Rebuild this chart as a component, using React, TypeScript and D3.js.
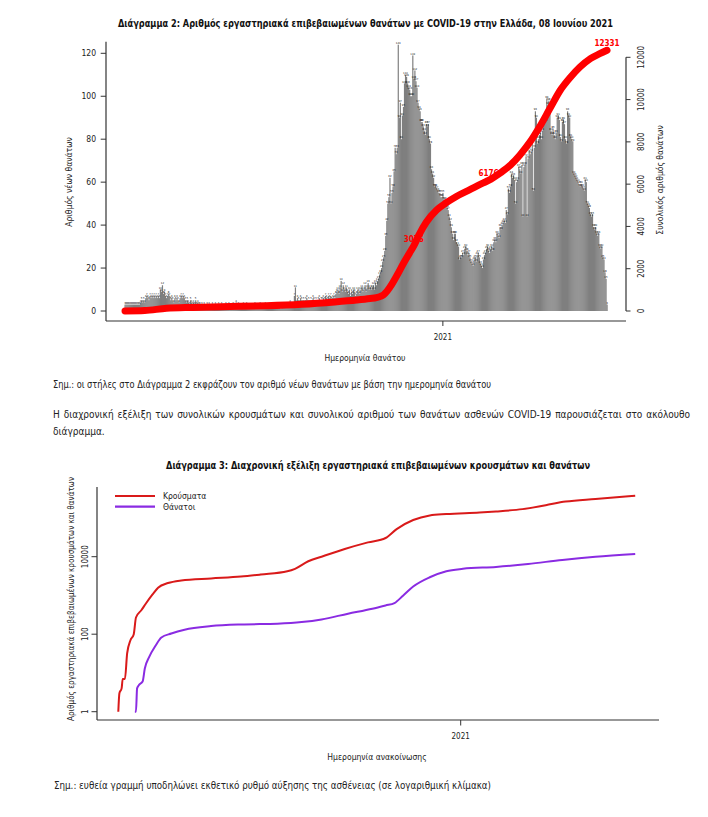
import { useLayoutEffect, useRef } from 'react';
import * as d3 from 'd3';

const FONT = "'Liberation Sans Narrow', 'Arial Narrow', 'DejaVu Sans Condensed', 'Roboto Condensed', sans-serif";

// Διάγραμμα 2: daily deaths by date of death, one array per month (from 2020-03-01)
const FIRST_DAY = '2020-03-01';
const deathsMar20 = [3, 3, 3, 3, 3, 3, 3, 3, 3, 3, 3, 3, 3, 3, 3, 4, 5, 4, 5, 4, 6, 7, 6, 5, 7, 6, 7, 6, 7, 6, 7];
const deathsApr20 = [6, 7, 6, 10, 9, 12, 8, 9, 7, 6, 7, 8, 7, 5, 6, 5, 4, 6, 5, 6, 5, 4, 6, 7, 6, 7, 6, 5, 4, 5];
const deathsMay20 = [4, 3, 5, 4, 3, 4, 3, 5, 3, 4, 3, 3, 2, 3, 2, 3, 2, 2, 3, 2, 3, 2, 2, 3, 2, 2, 3, 2, 2, 3, 2];
const deathsJun20 = [2, 3, 2, 2, 1, 3, 2, 2, 3, 2, 1, 2, 3, 2, 2, 4, 2, 3, 2, 2, 1, 2, 3, 2, 2, 3, 2, 2, 1, 2];
const deathsJul20 = [2, 1, 2, 3, 2, 1, 2, 2, 3, 2, 1, 2, 2, 3, 1, 2, 2, 1, 2, 3, 2, 2, 1, 2, 2, 3, 2, 2, 1, 2, 2];
const deathsAug20 = [2, 3, 2, 3, 2, 3, 4, 3, 2, 3, 7, 11, 4, 6, 5, 4, 6, 5, 4, 5, 4, 5, 6, 4, 5, 4, 5, 4, 6, 5, 4];
const deathsSep20 = [5, 4, 5, 6, 4, 5, 5, 6, 5, 7, 6, 5, 7, 6, 7, 5, 6, 7, 6, 8, 9, 10, 8, 11, 14, 9, 12, 10, 9, 11];
const deathsOct20 = [9, 8, 10, 7, 9, 8, 10, 9, 7, 8, 10, 9, 8, 10, 11, 9, 10, 12, 9, 11, 13, 10, 11, 10, 11, 12, 10, 13, 12, 14, 15];
const deathsNov20 = [17, 18, 20, 23, 25, 28, 35, 42, 50, 53, 62, 50, 55, 58, 65, 76, 73, 76, 124, 90, 97, 80, 91, 95, 106, 110, 109, 106, 104, 103];
const deathsDec20 = [100, 100, 119, 108, 112, 107, 104, 97, 94, 93, 88, 88, 86, 84, 82, 87, 86, 87, 80, 78, 66, 64, 62, 58, 58, 57, 56, 55, 55, 53, 53];
const deathsJan21 = [55, 52, 52, 49, 48, 47, 44, 42, 39, 36, 33, 36, 36, 32, 31, 30, 24, 25, 25, 27, 26, 29, 30, 28, 26, 27, 25, 23, 22, 21, 24];
const deathsFeb21 = [25, 23, 26, 27, 25, 22, 21, 20, 24, 26, 27, 29, 30, 28, 27, 29, 30, 28, 32, 33, 32, 36, 35, 34, 39, 38, 40, 41];
const deathsMar21 = [42, 41, 47, 45, 57, 55, 58, 64, 62, 63, 61, 50, 60, 61, 67, 66, 64, 68, 44, 67, 68, 72, 44, 71, 75, 73, 74, 79, 56, 76, 93];
const deathsApr21 = [90, 78, 80, 82, 83, 80, 84, 89, 87, 88, 99, 96, 98, 95, 84, 82, 85, 82, 80, 83, 90, 91, 89, 81, 79, 88, 89, 87, 80, 78];
const deathsMay21 = [93, 91, 90, 81, 80, 79, 64, 63, 62, 61, 60, 59, 58, 59, 58, 57, 56, 61, 60, 50, 49, 48, 45, 44, 45, 39, 38, 39, 36, 35, 36];
const deathsJun21 = [30, 29, 30, 25, 24, 18, 15, 3];

// cumulative deaths (right axis)
const cumDates = ['2020-03-01', '2020-03-20', '2020-04-10', '2020-05-05', '2020-06-10', '2020-07-15', '2020-08-18', '2020-09-19', '2020-10-10', '2020-10-23', '2020-10-29', '2020-11-02', '2020-11-05', '2020-11-08', '2020-11-11', '2020-11-18', '2020-11-24', '2020-11-30', '2020-12-04', '2020-12-09', '2020-12-16', '2020-12-26', '2021-01-04', '2021-01-14', '2021-01-27', '2021-02-09', '2021-02-14', '2021-02-25', '2021-03-07', '2021-03-16', '2021-03-26', '2021-04-04', '2021-04-14', '2021-04-24', '2021-05-04', '2021-05-13', '2021-05-23', '2021-06-01', '2021-06-08'];
const cumValues = [0, 20, 130, 170, 210, 250, 320, 430, 520, 590, 630, 690, 770, 920, 1120, 1700, 2250, 2750, 3076, 3600, 4200, 4780, 5110, 5420, 5740, 6060, 6176, 6520, 6900, 7370, 8000, 8700, 9575, 10440, 11070, 11540, 11940, 12170, 12331];
const cumLabelDates = ['2020-12-04', '2021-02-14', '2021-06-08'];
const cumLabelValues = [3076, 6176, 12331];

const leftTicks = [0, 20, 40, 60, 80, 100, 120];
const rightTicks = [0, 2000, 4000, 6000, 8000, 10000, 12000];

// Διάγραμμα 3: cumulative cases and deaths by announcement date (log scale)
const caseDates = ['2020-02-26', '2020-02-27', '2020-02-29', '2020-03-01', '2020-03-03', '2020-03-05', '2020-03-08', '2020-03-11', '2020-03-13', '2020-03-18', '2020-03-22', '2020-03-28', '2020-04-02', '2020-04-11', '2020-04-23', '2020-05-20', '2020-06-16', '2020-07-04', '2020-07-28', '2020-08-04', '2020-08-16', '2020-08-28', '2020-09-18', '2020-10-09', '2020-10-25', '2020-11-04', '2020-11-19', '2020-12-04', '2020-12-19', '2021-01-18', '2021-02-02', '2021-02-26', '2021-03-19', '2021-04-06', '2021-05-03', '2021-06-08'];
const caseValues = [1, 3, 4, 7, 7, 32, 70, 100, 270, 420, 620, 1060, 1580, 2090, 2440, 2750, 3070, 3470, 4200, 4870, 7620, 10000, 15800, 23400, 30400, 51600, 88500, 116000, 126000, 138000, 147000, 169000, 214000, 264000, 308000, 373000];
const deathDates = ['2020-03-12', '2020-03-13', '2020-03-14', '2020-03-16', '2020-03-19', '2020-03-21', '2020-03-25', '2020-03-31', '2020-04-05', '2020-04-14', '2020-04-26', '2020-05-20', '2020-06-19', '2020-07-19', '2020-08-10', '2020-08-28', '2020-09-21', '2020-10-13', '2020-10-25', '2020-11-02', '2020-11-10', '2020-11-19', '2020-12-04', '2020-12-19', '2021-01-03', '2021-02-02', '2021-03-03', '2021-04-03', '2021-05-03', '2021-06-08'];
const deathValues = [1, 1, 4, 5, 6, 13, 26, 52, 82, 104, 131, 162, 179, 187, 206, 241, 339, 455, 553, 634, 1000, 1700, 2950, 4220, 4870, 5450, 6480, 8270, 10000, 11800];
const logTicks = [1, 100, 10000];

const seriesNames = ['Κρούσματα', 'Θάνατοι'];
const seriesColors = ['#d91a1a', '#8a2be2'];

function JustifiedText({ x, y, width, children, ...rest }: any) {
  const ref = useRef<SVGTextElement>(null);
  useLayoutEffect(() => {
    const el = ref.current;
    if (!el) return;
    el.style.wordSpacing = '0px';
    const natural = el.getComputedTextLength();
    const spaces = (el.textContent || '').split(' ').length - 1;
    if (spaces > 0) el.style.wordSpacing = `${(width - natural) / spaces}px`;
  }, [width]);
  return <text ref={ref} x={x} y={y} {...rest}>{children}</text>;
}

export default function App() {
  const parse = d3.utcParse('%Y-%m-%d');
  const fmt = (v: number) => String(v);

  // ---- chart 2 ----
  const dailyDeaths = [
    ...deathsMar20, ...deathsApr20, ...deathsMay20, ...deathsJun20, ...deathsJul20,
    ...deathsAug20, ...deathsSep20, ...deathsOct20, ...deathsNov20, ...deathsDec20,
    ...deathsJan21, ...deathsFeb21, ...deathsMar21, ...deathsApr21, ...deathsMay21, ...deathsJun21,
  ];
  const day0 = parse(FIRST_DAY)!;
  const days = d3.utcDay.range(day0, d3.utcDay.offset(day0, dailyDeaths.length));
  const x2 = d3.scaleUtc().domain([day0, days[days.length - 1]]).range([125, 607]);
  const yL = d3.scaleLinear().domain([0, 120]).range([311, 53.3]);
  const yR = d3.scaleLinear().domain([0, 12000]).range([311, 57.3]);
  const bw = x2(days[1]) - x2(days[0]);

  const cum = cumDates.map((d, i) => ({ date: parse(d)!, value: cumValues[i] }));
  const cumLine = d3.line<{ date: Date; value: number }>()
    .x(d => x2(d.date))
    .y(d => yR(d.value))
    .curve(d3.curveMonotoneX);

  const tick2021a = x2(parse('2021-01-01')!);

  // ---- chart 3 ----
  const x3 = d3.scaleUtc().domain([parse('2020-02-26')!, parse('2021-01-01')!]).range([118.3, 460.7]);
  const y3 = d3.scaleLog().domain([1, 10000]).range([711.7, 556.7]);
  const logLine = d3.line<{ date: Date; value: number }>()
    .x(d => x3(d.date))
    .y(d => y3(d.value))
    .curve(d3.curveMonotoneX);
  const cases = caseDates.map((d, i) => ({ date: parse(d)!, value: caseValues[i] }));
  const deaths = deathDates.map((d, i) => ({ date: parse(d)!, value: deathValues[i] }));
  const tick2021b = x3(parse('2021-01-01')!);

  const axisColor = '#333';
  const textColor = '#222';

  return (
    <div style={{ position: 'absolute', left: 0, top: 0, width: 708, height: 817, background: '#fff' }}>
      <svg width={708} height={817} style={{ display: 'block' }} fontFamily={FONT} fill={textColor}>
        <rect width={708} height={817} fill="#fff" />

        {/* ===== Διάγραμμα 2 ===== */}
        <text x={118} y={27} fontSize={10.5} fontWeight="bold" fill="#111" textLength={495} lengthAdjust="spacingAndGlyphs">
          Διάγραμμα 2: Αριθμός εργαστηριακά επιβεβαιωμένων θανάτων με COVID-19 στην Ελλάδα, 08 Ιουνίου 2021
        </text>

        {/* bars */}
        <g fill="#7f7f7f">
          {days.map((d, i) => (
            <rect key={i} x={x2(d) - bw / 2} width={bw + 0.15} y={yL(dailyDeaths[i])} height={yL(0) - yL(dailyDeaths[i])} />
          ))}
        </g>
        <g fontSize={2.8} fill="#111" textAnchor="middle">
          {days.map((d, i) => (
            <text key={i} x={x2(d)} y={yL(dailyDeaths[i]) - 0.8}>{dailyDeaths[i]}</text>
          ))}
        </g>

        {/* cumulative labels, then the thick red line over them */}
        <g fontSize={8} fontWeight="bold" fill="#ff0000" textAnchor="middle">
          {cumLabelDates.map((d, i) => (
            <text key={d} x={x2(parse(d)!)} y={yR(cumLabelValues[i]) - 4}>{cumLabelValues[i]}</text>
          ))}
        </g>
        <path d={cumLine(cum) || ''} fill="none" stroke="#ff0000" strokeWidth={7} strokeLinecap="round" strokeLinejoin="round" />

        {/* left axis */}
        <line x1={106} x2={106} y1={41.7} y2={321} stroke={axisColor} strokeWidth={1.2} />
        {leftTicks.map(t => (
          <g key={t}>
            <line x1={100.7} x2={106} y1={yL(t)} y2={yL(t)} stroke={axisColor} strokeWidth={1} />
            <text x={96} y={yL(t) + 3} fontSize={8.5} textAnchor="end">{t}</text>
          </g>
        ))}
        <text transform={`translate(72,182) rotate(-90)`} fontSize={8.5} textAnchor="middle">Αριθμός νέων θανάτων</text>

        {/* bottom axis */}
        <line x1={106} x2={626} y1={321} y2={321} stroke={axisColor} strokeWidth={1.2} />
        <line x1={tick2021a} x2={tick2021a} y1={321} y2={326} stroke={axisColor} strokeWidth={1} />
        <text x={tick2021a} y={339.5} fontSize={8} textAnchor="middle">2021</text>
        <text x={365} y={360.5} fontSize={8.5} textAnchor="middle">Ημερομηνία θανάτου</text>

        {/* right axis */}
        <line x1={626} x2={626} y1={yR(12000)} y2={yR(0)} stroke={axisColor} strokeWidth={1.2} />
        {rightTicks.map(t => (
          <g key={t}>
            <line x1={626} x2={630.5} y1={yR(t)} y2={yR(t)} stroke={axisColor} strokeWidth={1} />
            <text transform={`translate(644,${yR(t)}) rotate(-90)`} fontSize={8} textAnchor="middle">{fmt(t)}</text>
          </g>
        ))}
        <text transform={`translate(663,180) rotate(-90)`} fontSize={8.5} textAnchor="middle">Συνολικός αριθμός θανάτων</text>

        {/* ===== text between charts ===== */}
        <text x={53} y={387.5} fontSize={10} textLength={438} lengthAdjust="spacingAndGlyphs">
          Σημ.: οι στήλες στο Διάγραμμα 2 εκφράζουν τον αριθμό νέων θανάτων με βάση την ημερομηνία θανάτου
        </text>
        <JustifiedText x={53} y={417.5} width={637} fontSize={10}>
          Η διαχρονική εξέλιξη των συνολικών κρουσμάτων και συνολικού αριθμού των θανάτων ασθενών COVID-19 παρουσιάζεται στο ακόλουθο
        </JustifiedText>
        <text x={53} y={434.5} fontSize={10}>διάγραμμα.</text>

        {/* ===== Διάγραμμα 3 ===== */}
        <text x={166} y={468.5} fontSize={10} fontWeight="bold" fill="#111" textLength={424} lengthAdjust="spacingAndGlyphs">
          Διάγραμμα 3: Διαχρονική εξέλιξη εργαστηριακά επιβεβαιωμένων κρουσμάτων και θανάτων
        </text>

        {[cases, deaths].map((s, i) => (
          <path key={i} d={logLine(s) || ''} fill="none" stroke={seriesColors[i]} strokeWidth={2} strokeLinejoin="round" />
        ))}

        {/* legend */}
        {seriesNames.map((n, i) => (
          <g key={n}>
            <line x1={115} x2={155} y1={496 + i * 10.7} y2={496 + i * 10.7} stroke={seriesColors[i]} strokeWidth={2.2} />
            <text x={163} y={499 + i * 10.7} fontSize={8.5}>{n}</text>
          </g>
        ))}

        {/* axes */}
        <line x1={97} x2={97} y1={487} y2={720} stroke={axisColor} strokeWidth={1.2} />
        {logTicks.map(t => (
          <g key={t}>
            <line x1={91.5} x2={97} y1={y3(t)} y2={y3(t)} stroke={axisColor} strokeWidth={1} />
            <text transform={`translate(88,${y3(t)}) rotate(-90)`} fontSize={8} textAnchor="middle">{fmt(t)}</text>
          </g>
        ))}
        <text transform={`translate(74,599) rotate(-90)`} fontSize={8.5} textAnchor="middle" textLength={244} lengthAdjust="spacingAndGlyphs">
          Αριθμός εργαστηριακά επιβεβαιωμένων κρουσμάτων και θανάτων
        </text>
        <line x1={97} x2={659} y1={720} y2={720} stroke={axisColor} strokeWidth={1.2} />
        <line x1={tick2021b} x2={tick2021b} y1={720} y2={725.5} stroke={axisColor} strokeWidth={1} />
        <text x={tick2021b} y={739} fontSize={8} textAnchor="middle">2021</text>
        <text x={377} y={760} fontSize={8.5} textAnchor="middle">Ημερομηνία ανακοίνωσης</text>

        <text x={54} y={788.5} fontSize={10} textLength={437} lengthAdjust="spacingAndGlyphs">
          Σημ.: ευθεία γραμμή υποδηλώνει εκθετικό ρυθμό αύξησης της ασθένειας (σε λογαριθμική κλίμακα)
        </text>
      </svg>
    </div>
  );
}
